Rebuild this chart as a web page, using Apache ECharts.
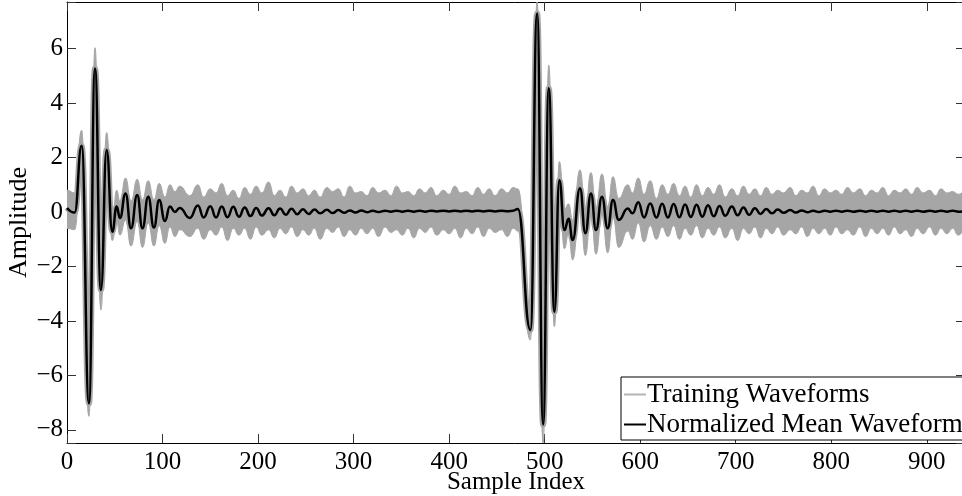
<!DOCTYPE html>
<html>
<head>
<meta charset="utf-8">
<script src="https://cdn.jsdelivr.net/npm/echarts@6/dist/echarts.min.js"></script>
<style>
  html, body { margin: 0; padding: 0; background: #fff; }
  #chart { width: 962px; height: 496px; }
</style>
</head>
<body>
<div id="chart"></div>
<script>
// Sample positions of the waveform turning points (shared by all curves)
const sampleIdx = [
  0, 8, 15.3, 23, 29.3, 35.5, 41.5, 47.4, 52, 55.4,
  61.3, 67, 73.5, 79, 85, 91, 96.5, 102.5, 107.7, 113, 118,
  128.6, 137, 143, 150, 156, 162, 168, 174, 180, 186,
  192, 198, 204, 211, 217, 223, 229, 235, 241, 247,
  253, 259, 265, 272, 278, 284, 290, 296, 302, 308,
  314, 320, 326, 333, 339, 345, 351, 357, 363, 369,
  375, 381, 387, 394, 400, 406, 412, 418, 424, 430,
  436, 442, 448, 455, 461, 467, 471.9,
  485.1, 492.1, 498.4, 504.3, 510.2, 515.4, 520.7, 525, 529.3, 537,
  542.6, 548.5, 553.7, 560, 566, 571.5, 577.5, 587, 592, 598,
  604, 610.5, 617, 623, 629, 635, 641, 647, 653, 659,
  665, 671, 677, 683, 689, 696, 702, 708, 714, 720,
  726, 732, 738, 744, 750, 757, 763, 769, 775, 781,
  787, 793, 799, 805, 811, 817, 823, 830, 836, 842,
  848, 854, 860, 866, 872, 878, 884, 890, 896, 903,
  909, 915, 921, 927, 933, 940
];

// Normalized mean waveform
const meanWave = [
  0.15, -0.02, 2.43, -7.02, 5.27, -2.86, 2.28, -0.72, 0.2, -0.22,
  0.68, -0.6, 0.62, -0.6, 0.56, -0.57, 0.44, -0.33, 0.2, 0.0, 0.15,
  -0.22, 0.24, -0.2, 0.21, -0.2, 0.2, -0.19, 0.19, -0.17, 0.17,
  -0.15, 0.15, -0.13, 0.14, -0.12, 0.13, -0.1, 0.12, -0.08, 0.1,
  -0.07, 0.09, -0.05, 0.08, -0.04, 0.07, -0.03, 0.06, -0.02, 0.06,
  -0.01, 0.05, 0.0, 0.05, 0.01, 0.05, 0.01, 0.05, 0.01, 0.05,
  0.01, 0.05, 0.02, 0.05, 0.02, 0.05, 0.02, 0.05, 0.02, 0.05,
  0.02, 0.05, 0.02, 0.05, 0.03, 0.05, 0.11,
  -4.33, 7.29, -7.8, 4.54, -3.66, 1.17, -0.66, -0.25, -1.03, 0.87,
  -0.78, 0.68, -0.66, 0.56, -0.6, 0.44, -0.29, 0.13, -0.05, 0.36,
  -0.2, 0.31, -0.2, 0.3, -0.2, 0.29, -0.19, 0.28, -0.18, 0.27,
  -0.17, 0.25, -0.16, 0.22, -0.14, 0.2, -0.12, 0.17, -0.1, 0.14,
  -0.07, 0.11, -0.05, 0.09, -0.03, 0.07, -0.02, 0.06, -0.01, 0.05,
  0.0, 0.05, 0.01, 0.05, 0.01, 0.05, 0.01, 0.05, 0.01, 0.05,
  0.01, 0.05, 0.01, 0.05, 0.01, 0.05, 0.01, 0.05, 0.01, 0.05,
  0.01, 0.05, 0.01, 0.05, 0.01, 0.04
];

// Upper edge of the spread of the training waveforms
const trainHi = [
  0.8, 0.7, 3.0, -6.5, 6.03, -2.4, 2.92, -0.3, 0.8, 0.4,
  1.25, 0.4, 1.2, 0.45, 1.15, 0.45, 1.05, 0.55, 1.0, 0.75, 0.95,
  0.6, 1.0, 0.55, 0.85, 0.7, 1.05, 0.6, 0.8, 0.5, 0.9,
  0.65, 0.95, 0.7, 1.1, 0.6, 0.8, 0.55, 0.95, 0.7, 0.85,
  0.6, 0.8, 0.55, 0.9, 0.75, 0.85, 0.55, 0.95, 0.7, 0.75,
  0.6, 0.9, 0.7, 0.8, 0.6, 0.95, 0.7, 0.75, 0.6, 0.85,
  0.7, 0.9, 0.6, 0.8, 0.65, 0.95, 0.7, 0.75, 0.6, 0.9,
  0.65, 0.85, 0.6, 0.85, 0.7, 0.9, 0.85,
  -3.9, 7.72, -7.3, 5.39, -3.1, 1.85, 0.1, 0.3, -0.3, 1.55,
  0.1, 1.45, 0.15, 1.4, 0.2, 1.3, 0.5, 1.0, 0.7, 1.25,
  0.65, 1.15, 0.5, 1.0, 0.65, 1.05, 0.6, 0.95, 0.55, 1.0,
  0.6, 0.9, 0.65, 1.0, 0.55, 0.85, 0.6, 0.95, 0.65, 0.85,
  0.6, 0.9, 0.65, 0.8, 0.7, 0.9, 0.6, 0.8, 0.7, 0.95,
  0.6, 0.85, 0.7, 0.8, 0.65, 0.9, 0.7, 0.85, 0.6, 0.8,
  0.7, 0.9, 0.6, 0.8, 0.7, 0.85, 0.65, 0.9, 0.7, 0.8,
  0.6, 0.85, 0.7, 0.75, 0.65, 0.75
];

// Lower edge of the spread of the training waveforms
const trainLo = [
  -0.6, -0.65, 2.0, -7.5, 4.8, -3.6, 1.85, -1.05, -0.35, -0.85,
  -0.3, -1.25, -0.35, -1.3, -0.4, -1.25, -0.5, -1.15, -0.55, -0.9, -0.65,
  -0.9, -0.6, -1.0, -0.65, -0.85, -0.55, -1.05, -0.6, -0.85, -0.6,
  -1.0, -0.55, -0.85, -0.65, -0.95, -0.6, -0.8, -0.55, -0.9, -0.65,
  -0.85, -0.6, -1.0, -0.6, -0.75, -0.55, -0.9, -0.65, -0.85, -0.6,
  -0.8, -0.6, -0.9, -0.55, -0.75, -0.65, -0.85, -0.6, -0.95, -0.6,
  -0.75, -0.55, -0.85, -0.65, -0.8, -0.6, -0.95, -0.6, -0.8, -0.55,
  -0.9, -0.6, -0.75, -0.65, -0.9, -0.6, -0.7,
  -4.7, 6.6, -8.48, 4.0, -4.21, 0.6, -1.35, -0.8, -1.76, 0.2,
  -1.6, 0.0, -1.55, -0.1, -1.5, -0.2, -1.3, -0.7, -1.0, -0.4,
  -1.1, -0.5, -1.0, -0.55, -0.9, -0.5, -1.0, -0.6, -0.85, -0.5,
  -0.95, -0.6, -0.85, -0.55, -0.95, -0.6, -1.05, -0.6, -0.8, -0.55,
  -0.95, -0.6, -0.8, -0.55, -0.85, -0.65, -0.8, -0.55, -0.9, -0.6,
  -0.8, -0.6, -0.85, -0.55, -0.8, -0.65, -0.85, -0.55, -0.9, -0.6,
  -0.8, -0.6, -0.85, -0.55, -0.8, -0.65, -0.9, -0.6, -0.8, -0.55,
  -0.85, -0.6, -0.8, -0.6, -0.85, -0.65
];

const xTicks = [0, 100, 200, 300, 400, 500, 600, 700, 800, 900];
const yTicks = [-8, -6, -4, -2, 0, 2, 4, 6];

const SERIF = 'Liberation Serif';
const GREY = '#a6a6a6';

const chart = echarts.init(document.getElementById('chart'), null, { renderer: 'canvas' });

const minus = v => String(v).replace('-', '\u2212');

const frameAxis = (extra) => Object.assign({
  type: 'value',
  splitLine: { show: false },
  axisLine: { show: true, onZero: false, lineStyle: { color: '#000', width: 1 } },
  axisTick: { show: true, inside: true, length: 9, lineStyle: { color: '#333', width: 1 } }
}, extra);

const meanPts = sampleIdx.map((x, i) => [x, meanWave[i]]);

// Smooth path through turning points: horizontal tangent at every point
function smoothThrough(pts, moveFirst) {
  let d = (moveFirst ? 'M' : 'L') + pts[0][0] + ',' + pts[0][1];
  for (let i = 1; i < pts.length; i++) {
    const p0 = pts[i - 1], p1 = pts[i];
    const mx = (p0[0] + p1[0]) / 2;
    d += 'C' + mx + ',' + p0[1] + ' ' + mx + ',' + p1[1] + ' ' + p1[0] + ',' + p1[1];
  }
  return d;
}

// Filled spread between the upper and lower edges of the training set
function renderSpread(params, api) {
  const upper = sampleIdx.map((x, i) => api.coord([x, trainHi[i]]));
  const lower = sampleIdx.map((x, i) => api.coord([x, trainLo[i]])).reverse();
  const d = smoothThrough(upper, true) + smoothThrough(lower, false) + 'Z';
  return {
    type: 'path',
    shape: { pathData: d },
    style: { fill: GREY, stroke: GREY, lineWidth: 1 }
  };
}

const curve = {
  type: 'line',
  showSymbol: false,
  symbol: 'none',
  smooth: 0.5,
  smoothMonotone: 'x',
  silent: true
};

chart.setOption({
  animation: false,
  backgroundColor: '#fff',
  grid: { left: 67, top: 2, right: -3, bottom: 53, outerBoundsMode: 'none' },
  xAxis: [
    frameAxis({
      position: 'bottom', min: 0, max: 940, interval: 100,
      name: 'Sample Index', nameLocation: 'middle', nameGap: 27,
      nameMoveOverlap: false,
      nameTextStyle: { fontFamily: SERIF, fontSize: 25, color: '#000' },
      axisLabel: {
        margin: 7, fontFamily: SERIF, fontSize: 25, color: '#000',
        formatter: v => xTicks.includes(v) ? String(v) : ''
      }
    }),
    frameAxis({
      position: 'top', min: 0, max: 940, interval: 100,
      axisLabel: { show: false }
    })
  ],
  yAxis: [
    frameAxis({
      position: 'left', min: -8.48, max: 7.71, minInterval: 2, maxInterval: 2,
      name: 'Amplitude', nameLocation: 'middle', nameGap: 35,
      nameMoveOverlap: false,
      nameTextStyle: { fontFamily: SERIF, fontSize: 26, color: '#000' },
      axisLabel: {
        margin: 4, fontFamily: SERIF, fontSize: 25, color: '#000',
        formatter: v => yTicks.includes(v) ? minus(v) : ''
      }
    }),
    frameAxis({
      position: 'right', min: -8.48, max: 7.71, minInterval: 2, maxInterval: 2,
      axisLabel: { show: false }
    })
  ],
  legend: {
    orient: 'vertical',
    left: 621, top: 377,
    padding: [4, 8, 2, 3],
    itemGap: 3,
    itemWidth: 22, itemHeight: 2,
    icon: 'rect',
    selectedMode: false,
    borderColor: '#000', borderWidth: 1,
    backgroundColor: '#fff',
    textStyle: { fontFamily: SERIF, fontSize: 27, color: '#000', padding: [0, 0, 0, -4] },
    data: [
      { name: 'Training Waveforms', itemStyle: { color: '#b4b4b4' } },
      { name: 'Normalized Mean Waveform', itemStyle: { color: '#000' } }
    ]
  },
  series: [
    {
      type: 'custom',
      name: 'Training Waveforms',
      renderItem: renderSpread,
      data: [[0, 0]],
      clip: true,
      silent: true,
      color: GREY,
      z: 1
    },
    Object.assign({}, curve, {
      name: 'Training Waveforms',
      data: meanPts,
      color: GREY,
      lineStyle: { color: GREY, width: 6 },
      z: 3
    }),
    Object.assign({}, curve, {
      name: 'Normalized Mean Waveform',
      data: meanPts,
      color: '#000',
      lineStyle: { color: '#000', width: 2.5 },
      z: 4
    })
  ]
});
</script>
</body>
</html>
